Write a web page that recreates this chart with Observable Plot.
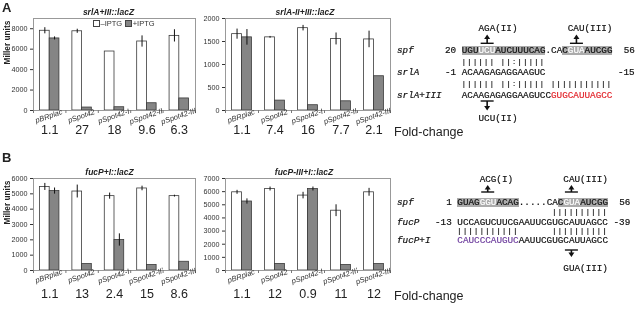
<!DOCTYPE html>
<html><head><meta charset="utf-8">
<script src="https://cdn.jsdelivr.net/npm/d3@7"></script>
<script src="https://cdn.jsdelivr.net/npm/@observablehq/plot@0.6"></script>
<style>
body{margin:0;background:#fff;}
#fig{position:relative;width:636px;height:309px;overflow:hidden;font-family:"Liberation Sans",Arial,sans-serif;color:#222;}
.abs{position:absolute;white-space:nowrap;will-change:transform;}
.seq{position:absolute;font-family:"Liberation Mono","Courier New",monospace;font-size:9.3px;line-height:1;white-space:pre;color:#111;-webkit-text-stroke:0.2px currentColor;will-change:transform;}
.pair{font-size:7px;letter-spacing:1.38px;color:#222;font-weight:bold;-webkit-text-stroke:0;}
.nm{font-style:italic;}
.hl{background:linear-gradient(to bottom,transparent 6%,#ababab 6%,#ababab 88%,transparent 88%);}
.hw{background:linear-gradient(to bottom,transparent 6%,#ababab 6%,#ababab 88%,transparent 88%);color:#fff;}
.red{color:#e2262c;}
.pur{color:#6e3f9e;}
.sw{display:inline-block;width:4.5px;height:4.5px;border:0.8px solid #444;margin:0 1px 0 3px;vertical-align:-0.5px;}
</style></head><body><div id="fig"></div>
<script>
// ---------- data ----------
const catsA = ["pBRplac", "pSpot42", "pSpot42-I", "pSpot42-II", "pSpot42-III"];
const catsB = ["pBRplac", "pSpot42", "pSpot42-I", "pSpot42-II'", "pSpot42-III"];
const conditions = ["–IPTG", "+IPTG"];

const a1Title = "srlA+III::lacZ";
const a1Minus = [7800, 7750, 5770, 6750, 7300];
const a1MinusErr = [300, 200, 0, 550, 600];
const a1Plus = [7050, 290, 320, 710, 1180];
const a1PlusErr = [150, 0, 0, 0, 0];
const a1Fold = ["1.1", "27", "18", "9.6", "6.3"];
const a1Ticks = [0, 2000, 4000, 6000, 8000];
const a1Max = 9000;

const a2Title = "srlA-II+III::lacZ";
const a2Minus = [1660, 1590, 1790, 1555, 1545];
const a2MinusErr = [110, 20, 60, 130, 180];
const a2Plus = [1590, 215, 115, 200, 745];
const a2PlusErr = [170, 0, 0, 0, 0];
const a2Fold = ["1.1", "7.4", "16", "7.7", "2.1"];
const a2Ticks = [0, 500, 1000, 1500, 2000];
const a2Max = 2000;

const b1Title = "fucP+I::lacZ";
const b1Minus = [5450, 5150, 4850, 5350, 4850];
const b1MinusErr = [230, 420, 200, 150, 60];
const b1Plus = [5180, 420, 1990, 360, 570];
const b1PlusErr = [200, 0, 400, 0, 0];
const b1Fold = ["1.1", "13", "2.4", "15", "8.6"];
const b1Ticks = [0, 1000, 2000, 3000, 4000, 5000, 6000];
const b1Max = 6000;

const b2Title = "fucP-III+I::lacZ";
const b2Minus = [5950, 6200, 5700, 4550, 5950];
const b2MinusErr = [150, 150, 250, 450, 300];
const b2Plus = [5250, 500, 6200, 420, 490];
const b2PlusErr = [200, 0, 150, 0, 0];
const b2Fold = ["1.1", "12", "0.9", "11", "12"];
const b2Ticks = [0, 1000, 2000, 3000, 4000, 5000, 6000, 7000];
const b2Max = 7000;

const yTitle = "Miller units";
const foldLabel = "Fold-change";

// ---------- charts ----------
const fig = document.getElementById("fig");

function barChart(o) {
  const rows = o.cats.flatMap((c, i) => [
    {cat: c, cond: conditions[0], v: o.minus[i], e: o.minusErr[i], x1: i + 0.2, x2: i + 0.5},
    {cat: c, cond: conditions[1], v: o.plus[i], e: o.plusErr[i], x1: i + 0.5, x2: i + 0.8}
  ]);
  const idx = o.cats.map((c, i) => i + 0.5);
  const marks = [
    Plot.rectY(rows.filter(d => d.cond === conditions[0]), {x1: "x1", x2: "x2", y: "v", fill: "#fff", stroke: "#3a3a3a", strokeWidth: 0.8}),
    Plot.rectY(rows.filter(d => d.cond === conditions[1]), {x1: "x1", x2: "x2", y: "v", fill: "#858585", stroke: "#3a3a3a", strokeWidth: 0.8}),
    Plot.ruleX(rows.filter(d => d.e > 0), {x: d => (d.x1 + d.x2) / 2, y1: d => d.v - d.e, y2: d => d.v + d.e, stroke: "#111", strokeWidth: 1}),
    Plot.frame({stroke: "#999"}),
    Plot.axisY({ticks: o.ticks, tickSize: 3, tickPadding: 3, tickFormat: d => String(d), fontSize: 7.2, color: "#333"}),
    Plot.axisX({ticks: d3.range(o.cats.length + 1), tickSize: 3, tickFormat: () => "", color: "#777"}),
    Plot.text(o.cats, {x: (d, i) => idx[i], text: d => d, frameAnchor: "bottom", dy: 8, rotate: -19, fontStyle: "italic", fontSize: 7.5, fill: "#333"}),
    Plot.text(o.fold, {x: (d, i) => idx[i], text: d => d, frameAnchor: "bottom", dy: o.foldDy, fontSize: 12.5, fill: "#222"}),
    Plot.text([o.title], {text: d => d, frameAnchor: "top", dy: -10, dx: o.titleDx, fontSize: 8.5, fontWeight: "bold", fontStyle: "italic", fill: "#222"})
  ];
  if (o.yLabel) marks.push(Plot.text([yTitle], {text: d => d, frameAnchor: "left", dx: -26, rotate: -90, fontSize: 8.3, fontWeight: "bold", fill: "#222"}));
  const p = Plot.plot({
    width: 200, height: o.height,
    marginLeft: o.marginLeft, marginRight: 5, marginTop: 18, marginBottom: o.height - 110,
    x: {domain: [0, o.cats.length], label: null},
    y: {domain: [0, o.max], label: null},
    style: {background: "transparent", overflow: "visible", fontFamily: "'Liberation Sans', Arial, sans-serif", fontSize: "7.5px"},
    marks
  });
  const div = document.createElement("div");
  div.className = "abs";
  div.style.left = o.left + "px";
  div.style.top = o.top + "px";
  div.appendChild(p);
  fig.appendChild(div);
}

barChart({cats: catsA, minus: a1Minus, minusErr: a1MinusErr, plus: a1Plus, plusErr: a1PlusErr, fold: a1Fold, ticks: a1Ticks, max: a1Max, title: a1Title, titleDx: -6, yLabel: true, left: 0, top: 0, marginLeft: 33, height: 142, foldDy: 23});
barChart({cats: catsA, minus: a2Minus, minusErr: a2MinusErr, plus: a2Plus, plusErr: a2PlusErr, fold: a2Fold, ticks: a2Ticks, max: a2Max, title: a2Title, titleDx: -3, yLabel: false, left: 195, top: 0, marginLeft: 30, height: 142, foldDy: 23});
barChart({cats: catsB, minus: b1Minus, minusErr: b1MinusErr, plus: b1Plus, plusErr: b1PlusErr, fold: b1Fold, ticks: b1Ticks, max: b1Max, title: b1Title, titleDx: -5, yLabel: true, left: 0, top: 160, marginLeft: 33, height: 146, foldDy: 27});
barChart({cats: catsB, minus: b2Minus, minusErr: b2MinusErr, plus: b2Plus, plusErr: b2PlusErr, fold: b2Fold, ticks: b2Ticks, max: b2Max, title: b2Title, titleDx: -4, yLabel: false, left: 195, top: 160, marginLeft: 30, height: 146, foldDy: 27});

// ---------- html text ----------
function abs(html, left, top, style) {
  const d = document.createElement("div");
  d.className = "abs";
  d.style.left = left + "px";
  d.style.top = top + "px";
  d.style.cssText += style || "";
  d.innerHTML = html;
  fig.appendChild(d);
  return d;
}
abs("A", 2, 1, "font-size:13px;font-weight:bold;line-height:1;");
abs("B", 2, 151, "font-size:13px;font-weight:bold;line-height:1;");
abs(foldLabel, 394, 126, "font-size:12.5px;line-height:1;");
abs(foldLabel, 394, 290, "font-size:12.5px;line-height:1;");
abs(`<span class="sw" style="background:#fff"></span>${conditions[0]}<span class="sw" style="background:#858585"></span>${conditions[1]}`, 90, 20, "font-size:7.5px;line-height:1;color:#333;");

// ---------- sequence panels ----------
const CW = 9.3 * 0.6;
function seqRow(x0, y, parts, cls) {
  const d = document.createElement("div");
  d.className = "seq" + (cls ? " " + cls : "");
  d.style.left = x0 + "px";
  d.style.top = (y - (cls === "pair" ? 3.1 : 4.1)) + "px";
  for (const [t, c] of parts) {
    const s = document.createElement("span");
    s.textContent = t;
    if (c) s.className = c;
    d.appendChild(s);
  }
  fig.appendChild(d);
}
const NX = 397;
// panel A
const xa = 445.3;
seqRow(xa, 28, [["      AGA(II)         CAU(III)"]]);
seqRow(NX, 50, [["spf"]], "nm");
seqRow(xa, 50, [["20 "], ["UGU", "hl"], ["UCU", "hw"], ["AUCUUUCAG", "hl"], [".CA"], ["C", "hl"], ["GUA", "hw"], ["AUCGG", "hl"], ["  56"]]);
seqRow(xa, 61.7, [["   |||||| ||:|||||"]], "pair");
seqRow(NX, 72.5, [["srlA"]], "nm");
seqRow(xa, 72.5, [["-1 ACAAGAGAGGAAGUC             -15"]]);
seqRow(xa, 84, [["   |||||| ||:||||| |||||||||||"]], "pair");
seqRow(NX, 95, [["srlA+III"]], "nm");
seqRow(xa, 95, [["   ACAAGAGAGGAAGUCC"], ["GUGCAUUAGCC", "red"]]);
seqRow(xa, 118, [["      UCU(II)"]]);
// panel B
const xb = 434.7;
seqRow(xb, 179.3, [["        ACG(I)         CAU(III)"]]);
seqRow(NX, 201.7, [["spf"]], "nm");
seqRow(xb, 201.7, [["  1 "], ["GUAG", "hl"], ["GGU", "hw"], ["ACAG", "hl"], [".....CA"], ["C", "hl"], ["GUA", "hw"], ["AUCGG", "hl"], ["  56"]]);
seqRow(xb, 211.7, [["                     ||||||||||"]], "pair");
seqRow(NX, 221.7, [["fucP"]], "nm");
seqRow(xb, 221.7, [["-13 UCCAGUCUUCGAAUUCGUGCAUUAGCC -39"]]);
seqRow(xb, 230.8, [["    |||||||||||      ||||||||||"]], "pair");
seqRow(NX, 240, [["fucP+I"]], "nm");
seqRow(xb, 240, [["    "], ["CAUCCCAUGUC", "pur"], ["AAUUCGUGCAUUAGCC"]]);
seqRow(xb, 268.3, [["                       GUA(III)"]]);

// arrows
const ns = "http://www.w3.org/2000/svg";
const svg = document.createElementNS(ns, "svg");
svg.setAttribute("width", 636); svg.setAttribute("height", 309);
svg.style.cssText = "position:absolute;left:0;top:0;pointer-events:none;";
fig.appendChild(svg);
function arrow(cx, tipY, baseY) {
  const dir = baseY > tipY ? 1 : -1;
  const g = document.createElementNS(ns, "g");
  const bar = document.createElementNS(ns, "line");
  bar.setAttribute("x1", cx - 6.5); bar.setAttribute("x2", cx + 6.5);
  bar.setAttribute("y1", baseY); bar.setAttribute("y2", baseY);
  bar.setAttribute("stroke", "#111"); bar.setAttribute("stroke-width", 1.4);
  const stem = document.createElementNS(ns, "line");
  stem.setAttribute("x1", cx); stem.setAttribute("x2", cx);
  stem.setAttribute("y1", baseY); stem.setAttribute("y2", tipY + dir * 3);
  stem.setAttribute("stroke", "#111"); stem.setAttribute("stroke-width", 1.6);
  const head = document.createElementNS(ns, "polygon");
  head.setAttribute("points", `${cx - 3},${tipY + dir * 4.5} ${cx + 3},${tipY + dir * 4.5} ${cx},${tipY}`);
  head.setAttribute("fill", "#111");
  g.append(bar, stem, head);
  svg.appendChild(g);
}
const colX = (x0, prefix, c) => x0 + (prefix + c) * CW;
arrow(colX(xa, 3, 4.5), 34.5, 43.3);
arrow(colX(xa, 3, 20.5), 34.5, 43.3);
arrow(colX(xa, 3, 4.5), 110.5, 101);
arrow(colX(xb, 4, 5.5), 185, 192);
arrow(colX(xb, 4, 20.5), 185, 192);
arrow(colX(xb, 4, 20.5), 257, 250);
</script>
</body></html>
